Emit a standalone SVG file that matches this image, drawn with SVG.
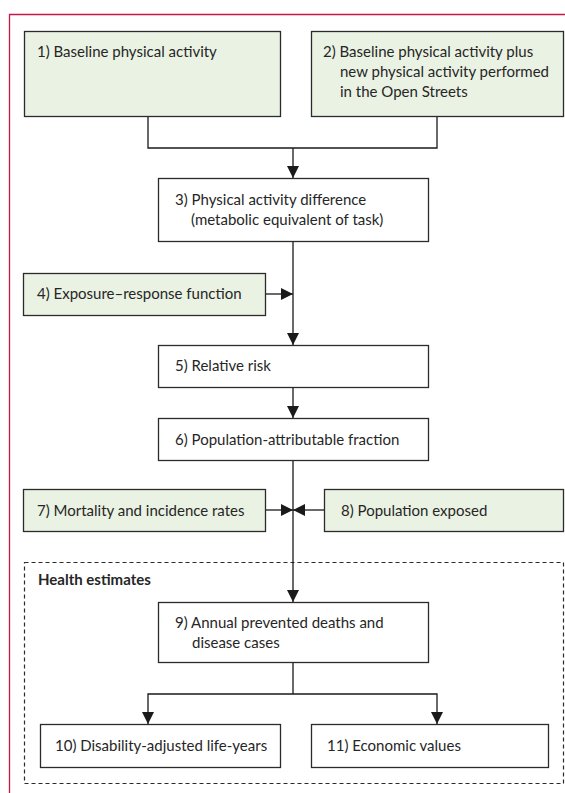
<svg xmlns="http://www.w3.org/2000/svg" width="565" height="793" viewBox="0 0 565 793">
  <style>
    .box { stroke: #2b2b2b; stroke-width: 1.3; }
    .g { fill: #eaf2e3; }
    .w { fill: #ffffff; }
    text { font-family: Lato, "Liberation Sans", Arial, sans-serif; font-size: 15px; fill: #262626; }
    .bold { font-weight: bold; }
    .conn { fill: none; stroke: #1a1a1a; stroke-width: 1.3; }
  </style>
  <defs>
    <marker id="arr" markerUnits="userSpaceOnUse" markerWidth="12" markerHeight="12" viewBox="0 0 12 12" refX="12" refY="6" orient="auto">
      <path d="M0,0 L12,6 L0,12 z" fill="#1a1a1a"/>
    </marker>
  </defs>
  <rect width="565" height="793" fill="#ffffff"/>
  <path d="M9.5,793 V14.5 H565" fill="none" stroke="#c8174b" stroke-width="1.3"/>

  <g id="health-estimates">
    <rect x="24.5" y="562.5" width="539" height="221" fill="none" stroke="#2b2b2b" stroke-width="1.2" stroke-dasharray="4,3"/>
    <text x="38" y="585" class="bold">Health estimates</text>
  </g>

  <g id="connectors">
    <path class="conn" d="M148,116 V148 H437 V116"/>
    <path class="conn" d="M293,148 V178" marker-end="url(#arr)"/>
    <path class="conn" d="M293,241 V345" marker-end="url(#arr)"/>
    <path class="conn" d="M265,294 H293" marker-end="url(#arr)"/>
    <path class="conn" d="M293,387 V418" marker-end="url(#arr)"/>
    <path class="conn" d="M293,460 V602" marker-end="url(#arr)"/>
    <path class="conn" d="M265,510 H293" marker-end="url(#arr)"/>
    <path class="conn" d="M324,510 H293" marker-end="url(#arr)"/>
    <path class="conn" d="M293,662 V694"/>
    <path class="conn" d="M293,694 H148 V724" marker-end="url(#arr)"/>
    <path class="conn" d="M293,694 H437 V724" marker-end="url(#arr)"/>
  </g>

  <g id="n1">
    <rect class="box g" x="24.5" y="31.5" width="256" height="85"/>
    <text x="37" y="57">1) Baseline physical activity</text>
  </g>
  <g id="n2">
    <rect class="box g" x="311.5" y="31.5" width="252" height="85"/>
    <text x="323" y="57">2) Baseline physical activity plus</text>
    <text x="340" y="77">new physical activity performed</text>
    <text x="340" y="97">in the Open Streets</text>
  </g>
  <g id="n3">
    <rect class="box w" x="158.5" y="178.5" width="270" height="63"/>
    <text x="175" y="205">3) Physical activity difference</text>
    <text x="191" y="225">(metabolic equivalent of task)</text>
  </g>
  <g id="n4">
    <rect class="box g" x="23.5" y="273.5" width="242" height="42"/>
    <text x="37" y="299">4) Exposure–response function</text>
  </g>
  <g id="n5">
    <rect class="box w" x="158.5" y="345.5" width="270" height="42"/>
    <text x="175" y="371">5) Relative risk</text>
  </g>
  <g id="n6">
    <rect class="box w" x="158.5" y="418.5" width="270" height="42"/>
    <text x="175" y="445">6) Population-attributable fraction</text>
  </g>
  <g id="n7">
    <rect class="box g" x="23.5" y="489.5" width="242" height="42"/>
    <text x="37" y="516">7) Mortality and incidence rates</text>
  </g>
  <g id="n8">
    <rect class="box g" x="324.5" y="489.5" width="239" height="42"/>
    <text x="341" y="516">8) Population exposed</text>
  </g>
  <g id="n9">
    <rect class="box w" x="158.5" y="602.5" width="270" height="60"/>
    <text x="175" y="628">9) Annual prevented deaths and</text>
    <text x="192" y="648">disease cases</text>
  </g>
  <g id="n10">
    <rect class="box w" x="40.5" y="724.5" width="240" height="43"/>
    <text x="55" y="751">10) Disability-adjusted life-years</text>
  </g>
  <g id="n11">
    <rect class="box w" x="311.5" y="724.5" width="237" height="43"/>
    <text x="327" y="751">11) Economic values</text>
  </g>
</svg>
